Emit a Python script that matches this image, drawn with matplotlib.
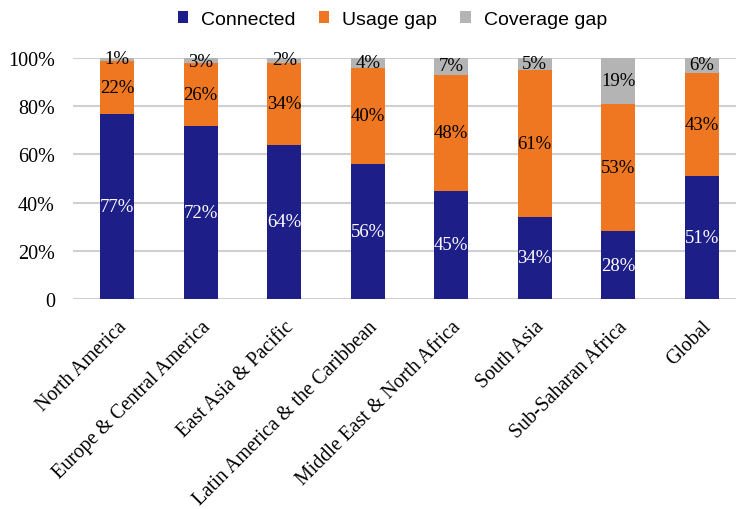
import matplotlib.pyplot as plt
import numpy as np

regions = ["North America", "Europe & Central America", "East Asia & Pacific",
           "Latin America & the Caribbean", "Middle East & North Africa",
           "South Asia", "Sub-Saharan Africa", "Global"]
connected = [77, 72, 64, 56, 45, 34, 28, 51]
usage_gap = [22, 26, 34, 40, 48, 61, 53, 43]
coverage_gap = [1, 3, 2, 4, 7, 5, 19, 6]
yticks = [0, 20, 40, 60, 80, 100]
ytick_labels = ["0", "20%", "40%", "60%", "80%", "100%"]

serif = ["Liberation Serif", "DejaVu Serif"]

fig = plt.figure(figsize=(7.36, 5.10), dpi=100)
ax = fig.add_axes([0.099, 0.412, 0.901, 0.472])

x = np.arange(len(regions))
w = 0.41
conn = np.array(connected)
usage = np.array(usage_gap)
cov = np.array(coverage_gap)

b1 = ax.bar(x, conn, w, color="#1E1E88", label="Connected", zorder=3)
b2 = ax.bar(x, usage, w, bottom=conn, color="#EF7721", label="Usage gap", zorder=3)
b3 = ax.bar(x, cov, w, bottom=conn + usage, color="#B4B4B4", label="Coverage gap", zorder=3)

for i in range(len(regions)):
    ax.text(x[i], conn[i] / 2, f"{conn[i]}%", ha="center", va="center",
            color="white", fontsize=13.5, family=serif, zorder=4)
    ax.text(x[i], conn[i] + usage[i] / 2, f"{usage[i]}%", ha="center", va="center",
            color="black", fontsize=13.5, family=serif, zorder=4)
    top = min(conn[i] + usage[i] + cov[i], 100)
    ax.text(x[i], top - cov[i] / 2 + 0.3, f"{cov[i]}%", ha="center", va="center",
            color="black", fontsize=13.5, family=serif, zorder=4)

ax.set_ylim(0, 100)
ax.set_xlim(-0.53, 7.41)
ax.set_yticks(yticks)
ax.set_yticklabels(ytick_labels, fontsize=14.5, family=serif)
ax.set_xticks(x)
ax.set_xticklabels(regions, rotation=45, ha="right", rotation_mode="anchor",
                   fontsize=14.3, family=serif)
ax.tick_params(axis="both", length=0)
ax.tick_params(axis="x", pad=13)
ax.tick_params(axis="y", pad=13)
ax.yaxis.grid(True, color="#D0D0D0", linewidth=1.5, zorder=0)
for s in ax.spines.values():
    s.set_visible(False)

fig.legend(handles=[b1, b2, b3], loc="center", bbox_to_anchor=(0.533, 0.96), ncol=3,
           frameon=False, handlelength=0.55, handleheight=0.55,
           columnspacing=1.2, handletextpad=0.65, prop={"family": "Liberation Sans", "size": 14})

fig.savefig("out.png", dpi=100)
